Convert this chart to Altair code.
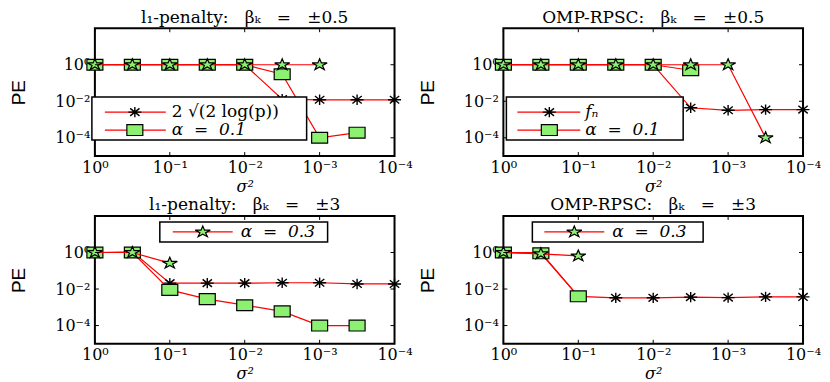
import altair as alt
import pandas as pd

# sigma^2 values (x positions, half-decade steps from 1 to 1e-4)
SIG = [1.0, 0.316, 0.1, 0.0316, 0.01, 0.00316, 0.001, 0.000316, 0.0001]

# Panel 1: l1-penalty, beta = +-0.5
p1_ast = [1.0, 1.0, 1.0, 1.0, 1.0, 0.013, 0.012, 0.012, 0.012]
p1_sq = [1.0, 1.0, 1.0, 1.0, 1.0, 0.3, 0.0001, 0.00019]
p1_star = [1.0, 1.0, 1.0, 1.0, 1.0, 1.0, 1.0]

# Panel 2: OMP-RPSC, beta = +-0.5
p2_ast = [1.0, 1.0, 1.0, 1.0, 1.0, 0.0044, 0.0032, 0.0035, 0.0035]
p2_sq = [1.0, 1.0, 1.0, 1.0, 1.0, 0.5]
p2_star = [1.0, 1.0, 1.0, 1.0, 1.0, 1.0, 1.0, 0.0001]

# Panel 3: l1-penalty, beta = +-3
p3_ast = [1.0, 1.1, 0.021, 0.021, 0.021, 0.022, 0.022, 0.019, 0.019]
p3_sq = [1.0, 1.0, 0.009, 0.0028, 0.0013, 0.0006, 0.0001, 0.0001]
p3_star = [1.0, 1.0, 0.26]

# Panel 4: OMP-RPSC, beta = +-3
p4_ast = [1.0, 1.0, 0.004, 0.0033, 0.0033, 0.0036, 0.0034, 0.0037, 0.0037]
p4_sq = [1.0, 0.9, 0.004]
p4_star = [1.0, 0.85, 0.65]

SP = "\u00a0\u00a0\u00a0"
TITLES = ["l\u2081-penalty:" + SP + "\u03b2\u2096" + SP + "=" + SP + "\u00b10.5",
          "OMP-RPSC:" + SP + "\u03b2\u2096" + SP + "=" + SP + "\u00b10.5",
          "l\u2081-penalty:" + SP + "\u03b2\u2096" + SP + "=" + SP + "\u00b13",
          "OMP-RPSC:" + SP + "\u03b2\u2096" + SP + "=" + SP + "\u00b13"]
LEG_AST = ["2\u00a0\u221a(2\u00a0log(p))", "f\u2099"]
LEG_SQ = "\u03b1\u00a0\u00a0=\u00a0\u00a00.1"
LEG_STAR = "\u03b1\u00a0\u00a0=\u00a0\u00a00.3"

X_TICKS = [1.0, 0.1, 0.01, 0.001, 0.0001]
Y_TICKS = [1.0, 0.01, 0.0001]

W, H = 300, 128
GREEN = "#8cf070"
RED = "#ff0000"
SERIF = "DejaVu Serif"

AST_PATH = "M-1,0L1,0M0,-0.8L0,0.8M-0.72,-0.58L0.72,0.58M-0.72,0.58L0.72,-0.58"
SQ_PATH = "M-1,-0.68L1,-0.68L1,0.68L-1,0.68Z"
STAR_PATH = ("M0,-0.75L0.225,-0.232L0.951,-0.232L0.363,0.089L0.588,0.607"
             "L0,0.287L-0.588,0.607L-0.363,0.089L-0.951,-0.232L-0.225,-0.232Z")

LABEL_EXPR = ("round(log(datum.value)/LN10) == 0 ? '10\u2070' : "
              "round(log(datum.value)/LN10) == -1 ? '10\u207b\u00b9' : "
              "round(log(datum.value)/LN10) == -2 ? '10\u207b\u00b2' : "
              "round(log(datum.value)/LN10) == -3 ? '10\u207b\u00b3' : '10\u207b\u2074'")

xscale = alt.Scale(type="log", domain=[0.0001, 1.0], reverse=True, nice=False)
yscale = alt.Scale(type="log", domain=[0.00001, 100.0], nice=False)

xaxis = alt.Axis(values=X_TICKS, labelExpr=LABEL_EXPR, title="\u03c3\u00b2",
                 titleFont=SERIF, titleFontStyle="italic", titleFontSize=16,
                 titleFontWeight="normal", titlePadding=3,
                 labelFont=SERIF, labelFontSize=16, labelColor="black",
                 labelPadding=3, ticks=False, domain=False, grid=False,
                 labelFlush=False, labelOverlap=False)
yaxis = alt.Axis(values=Y_TICKS, labelExpr=LABEL_EXPR, title="PE",
                 titleFont="Liberation Sans", titleFontSize=19,
                 titleFontWeight="normal", titlePadding=26,
                 labelFont=SERIF, labelFontSize=16, labelColor="black",
                 labelPadding=5, ticks=False, domain=False, grid=False,
                 labelFlush=False, labelOverlap=False)


def series_layers(vals, path, size, filled, sw):
    df = pd.DataFrame({"x": SIG[:len(vals)], "y": vals})
    base = alt.Chart(df)
    line = base.mark_line(color=RED, strokeWidth=1.2, clip=True).encode(
        x=alt.X("x:Q", scale=xscale, axis=xaxis),
        y=alt.Y("y:Q", scale=yscale, axis=yaxis),
    )
    if filled:
        mk = base.mark_point(shape=path, size=size, filled=True, fill=GREEN,
                             stroke="black", strokeWidth=sw, opacity=1)
    else:
        mk = base.mark_point(shape=path, size=size, filled=False,
                             stroke="black", strokeWidth=sw, opacity=1)
    pts = mk.encode(x=alt.X("x:Q", scale=xscale), y=alt.Y("y:Q", scale=yscale))
    return [line, pts]


def one_row():
    return alt.Chart(pd.DataFrame({"k": [0]}))


def legend_layers(box, entries):
    x1, y1, x2, y2 = box
    lays = [one_row().mark_rect(fill="white", stroke="black", strokeWidth=1.5).encode(
        x=alt.value(x1), x2=alt.value(x2), y=alt.value(y1), y2=alt.value(y2))]
    for (yc, lx1, lx2, mx, tx, path, size, filled, label, italic) in entries:
        lays.append(one_row().mark_rule(color=RED, strokeWidth=1.2).encode(
            x=alt.value(lx1), x2=alt.value(lx2), y=alt.value(yc)))
        if filled:
            m = one_row().mark_point(shape=path, size=size, filled=True, fill=GREEN,
                                     stroke="black", strokeWidth=1.2, opacity=1)
        else:
            m = one_row().mark_point(shape=path, size=size, filled=False,
                                     stroke="black", strokeWidth=1.4, opacity=1)
        lays.append(m.encode(x=alt.value(mx), y=alt.value(yc)))
        lays.append(one_row().mark_text(text=label, font=SERIF, fontSize=17,
                                        fontStyle="italic" if italic else "normal",
                                        align="left", baseline="middle",
                                        color="black").encode(
            x=alt.value(tx), y=alt.value(yc)))
    return lays


def tick_layers():
    xt = alt.Chart(pd.DataFrame({"t": X_TICKS}))
    yt = alt.Chart(pd.DataFrame({"t": Y_TICKS}))
    return [
        xt.mark_rule(color="black", strokeWidth=1).encode(
            x=alt.X("t:Q", scale=xscale), y=alt.value(H), y2=alt.value(H - 4)),
        xt.mark_rule(color="black", strokeWidth=1).encode(
            x=alt.X("t:Q", scale=xscale), y=alt.value(0), y2=alt.value(4)),
        yt.mark_rule(color="black", strokeWidth=1).encode(
            y=alt.Y("t:Q", scale=yscale), x=alt.value(0), x2=alt.value(4)),
        yt.mark_rule(color="black", strokeWidth=1).encode(
            y=alt.Y("t:Q", scale=yscale), x=alt.value(W), x2=alt.value(W - 4)),
    ]


def panel(title, ast, sq, star, legend):
    layers = []
    layers += series_layers(ast, AST_PATH, 169, False, 1.4)
    layers += series_layers(sq, SQ_PATH, 256, True, 1.2)
    layers += series_layers(star, STAR_PATH, 250, True, 1.2)
    layers += tick_layers()
    layers += legend
    return alt.layer(*layers).properties(
        width=W, height=H,
        title=alt.Title(title, font=SERIF, fontSize=17, fontWeight="normal",
                        color="black", offset=1),
    )


leg1 = legend_layers((-3, 69, 212, 112), [
    (84, 10, 71, 40, 77, AST_PATH, 169, False, LEG_AST[0], False),
    (102, 10, 71, 40, 77, SQ_PATH, 256, True, LEG_SQ, True),
])
leg2 = legend_layers((3, 69, 180, 112), [
    (84, 14, 77, 46, 82, AST_PATH, 169, False, LEG_AST[1], True),
    (102, 14, 77, 46, 82, SQ_PATH, 256, True, LEG_SQ, True),
])
leg3 = legend_layers((65, 6, 233, 26), [
    (16, 78, 138, 108, 146, STAR_PATH, 250, True, LEG_STAR, True),
])
leg4 = legend_layers((29, 6, 200, 26), [
    (16, 41, 101, 71, 109, STAR_PATH, 250, True, LEG_STAR, True),
])

c1 = panel(TITLES[0], p1_ast, p1_sq, p1_star, leg1)
c2 = panel(TITLES[1], p2_ast, p2_sq, p2_star, leg2)
c3 = panel(TITLES[2], p3_ast, p3_sq, p3_star, leg3)
c4 = panel(TITLES[3], p4_ast, p4_sq, p4_star, leg4)

chart = alt.concat(c1, c2, c3, c4, columns=2,
                   spacing={"row": 60, "column": 109}, bounds="flush").properties(
    padding={"left": 0, "top": -1, "right": 0, "bottom": 0},
    background="white",
).configure_view(stroke="black", strokeWidth=2)

chart.save("out.html", embed_options={"renderer": "svg", "actions": False})
